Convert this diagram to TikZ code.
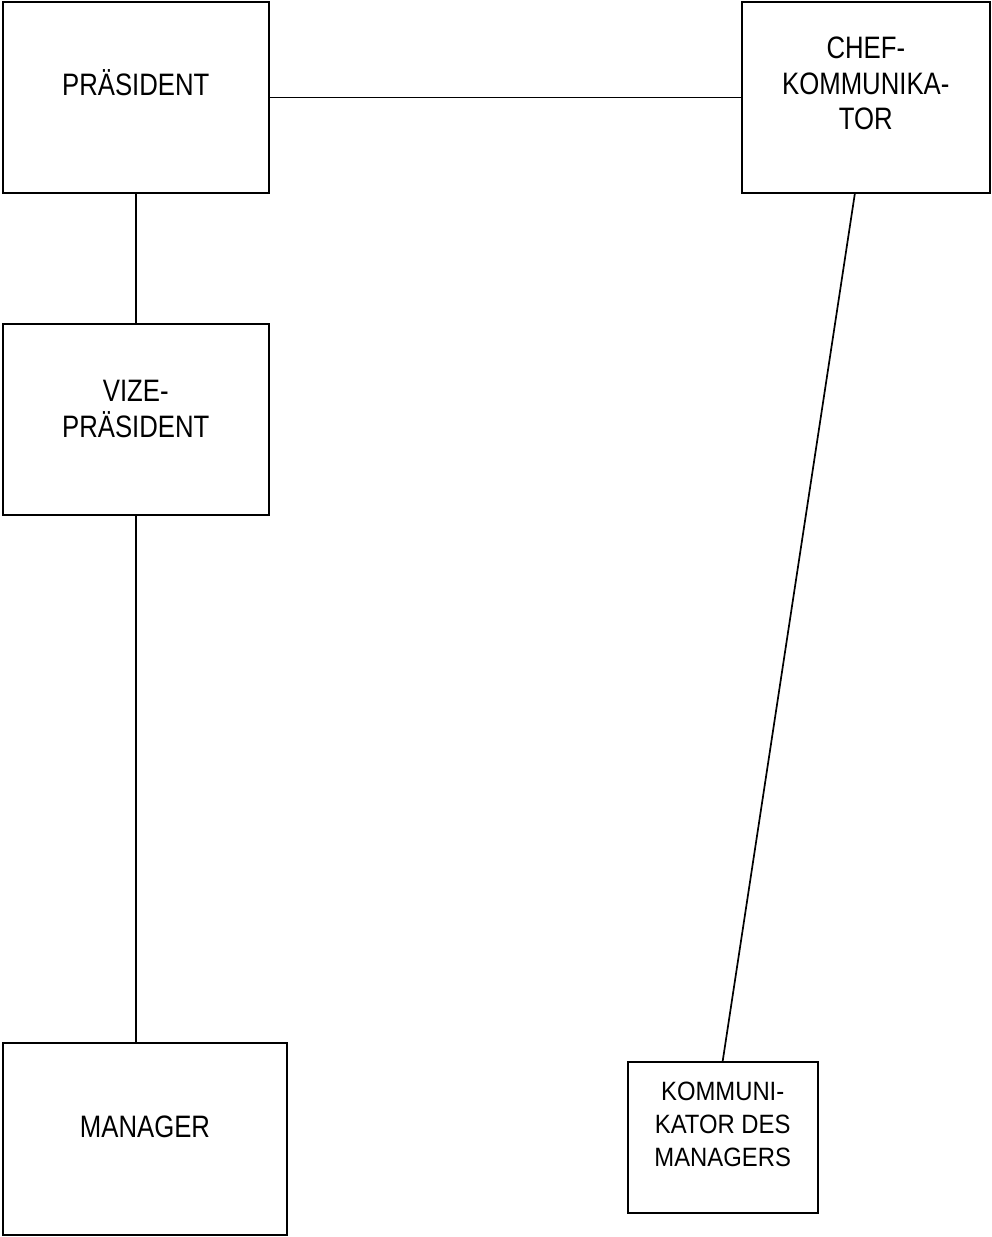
\documentclass[tikz,border=0pt]{standalone}
\usepackage{fontspec}
\setmainfont{Liberation Sans}
\newfontfamily\bigfam[FakeStretch=0.83]{Liberation Sans}
\newfontfamily\smallfam[FakeStretch=0.9]{Liberation Sans}
\usetikzlibrary{calc}
\begin{document}
\begin{tikzpicture}[x=1pt,y=-1pt,
  box/.style={draw,line width=2pt,inner sep=0pt,minimum width=#1},
  bigtxt/.style={align=center,inner sep=0pt,font=\bigfam\fontsize{31}{35.5}\selectfont},
  smalltxt/.style={align=center,inner sep=0pt,font=\smallfam\fontsize{26.5}{33}\selectfont},
  oneline/.style={text height=22.2pt,text depth=0pt},
  conn/.style={line width=1.7pt}]
\useasboundingbox (0,0) rectangle (992,1237);
% boxes
\node[box=265.7pt,minimum height=191pt] (pres) at (135.8,97.5) {};
\node[box=248.3pt,minimum height=191pt] (chef) at (865.8,97.5) {};
\node[box=265.7pt,minimum height=191pt] (vize) at (135.8,419.5) {};
\node[box=284pt,minimum height=192pt] (mgr) at (145,1139) {};
\node[box=190pt,minimum height=151pt] (komm) at (722.7,1137.5) {};
% labels
\node[bigtxt,oneline] (presT) at ([yshift=13.5pt]pres.center) {PRÄSIDENT};
\node[bigtxt] (chefT) at ([yshift=14pt]chef.center) {CHEF-\\KOMMUNIKA-\\TOR};
\node[bigtxt] (vizeT) at ([yshift=10.5pt]vize.center) {VIZE-\\PRÄSIDENT};
\node[bigtxt,oneline] (mgrT) at ([yshift=13pt]mgr.center) {MANAGER};
\node[smalltxt] (kommT) at ([yshift=13.5pt]komm.center) {KOMMUNI-\\KATOR DES\\MANAGERS};
% connectors
\coordinate (chefS) at ($(chef.south west)!0.456!(chef.south east)$);
\draw[conn] (pres.east) -- (chef.west);
\draw[conn] (pres.south) -- (vize.north);
\draw[conn] (vize.south) -- (vize.south |- mgr.north);
\draw[conn] (chefS) -- (komm.north);
\end{tikzpicture}
\end{document}
